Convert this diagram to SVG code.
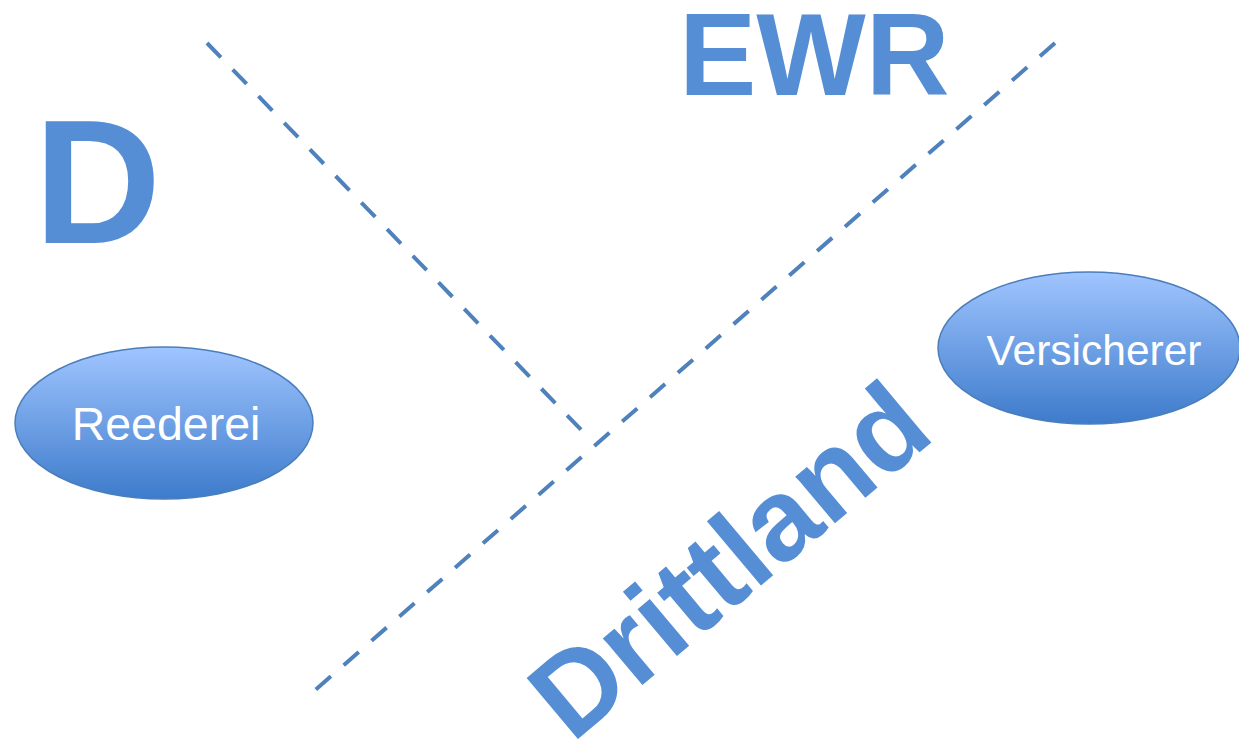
<svg xmlns="http://www.w3.org/2000/svg" width="1239" height="739" viewBox="0 0 1239 739">
<defs>
<linearGradient id="g" x1="0" y1="0" x2="0" y2="1">
<stop offset="0" stop-color="#a0c5ff"/>
<stop offset="1" stop-color="#3d7bcb"/>
</linearGradient>
</defs>
<style>
.big{font-family:"Liberation Sans",Arial,sans-serif;font-weight:bold;fill:#558ed5}
.lbl{font-family:"Liberation Sans",Arial,sans-serif;fill:#ffffff;text-anchor:middle}
.node{fill:url(#g);stroke:#4a7ebb;stroke-width:1.5}
.dash{stroke:#4f81bd;stroke-width:4;stroke-dasharray:20 17;fill:none}
</style>
<rect width="1239" height="739" fill="#ffffff"/>
<g id="connectors">
<line class="dash" x1="207" y1="43" x2="589" y2="438"/>
<line class="dash" x1="1055" y1="43" x2="313" y2="692"/>
</g>
<text class="big" x="679" y="95" font-size="116">EWR</text>
<text class="big" x="34" y="243" font-size="176">D</text>
<text class="big" font-size="116" transform="translate(572,744) rotate(-40)">Drittland</text>
<g id="reederei">
<ellipse class="node" cx="164" cy="423" rx="149" ry="76"/>
<text class="lbl" x="166" y="440" font-size="46.5">Reederei</text>
</g>
<g id="versicherer">
<ellipse class="node" cx="1089" cy="348" rx="151" ry="76"/>
<text class="lbl" x="1094" y="365" font-size="42.5">Versicherer</text>
</g>
</svg>
